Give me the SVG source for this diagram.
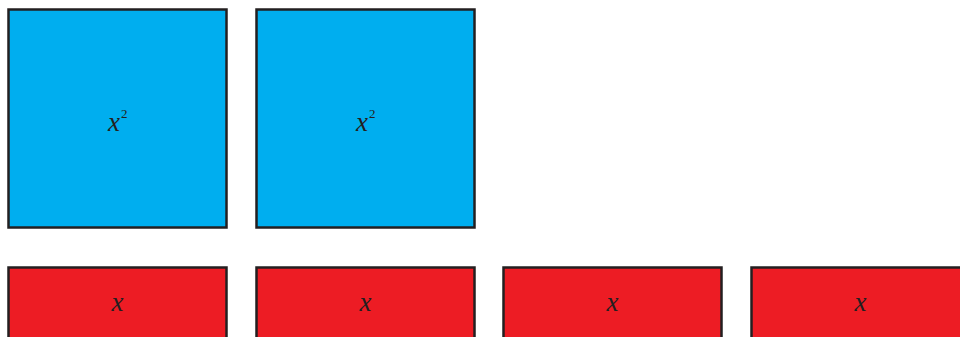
<svg xmlns="http://www.w3.org/2000/svg" width="960" height="337" viewBox="0 0 960 337">
<style>
.sq{fill:#00aeef;stroke:#231f20;stroke-width:2.5}
.bar{fill:#ed1c24;stroke:#231f20;stroke-width:2.5}
.lbl{font-family:"Liberation Serif",serif;font-style:italic;font-size:27px;fill:#231f20;text-anchor:middle}
.sup{font-family:"Liberation Serif",serif;font-size:13px;fill:#231f20}
</style>
<rect width="960" height="337" fill="#ffffff"/>
<g id="sq1"><rect class="sq" x="8.5" y="9.5" width="218" height="218"/><text class="lbl" x="114" y="131">x</text><text class="sup" x="121" y="118">2</text></g>
<g id="sq2"><rect class="sq" x="256.5" y="9.5" width="218" height="218"/><text class="lbl" x="362" y="131">x</text><text class="sup" x="369" y="118">2</text></g>
<g id="bar1"><rect class="bar" x="8.5" y="267.5" width="218" height="100"/><text class="lbl" x="117.5" y="311">x</text></g>
<g id="bar2"><rect class="bar" x="256.5" y="267.5" width="218" height="100"/><text class="lbl" x="365.5" y="311">x</text></g>
<g id="bar3"><rect class="bar" x="503.5" y="267.5" width="218" height="100"/><text class="lbl" x="612.5" y="311">x</text></g>
<g id="bar4"><rect class="bar" x="751.5" y="267.5" width="218" height="100"/><text class="lbl" x="860.5" y="311">x</text></g>
<g id="connectors"></g>
</svg>
